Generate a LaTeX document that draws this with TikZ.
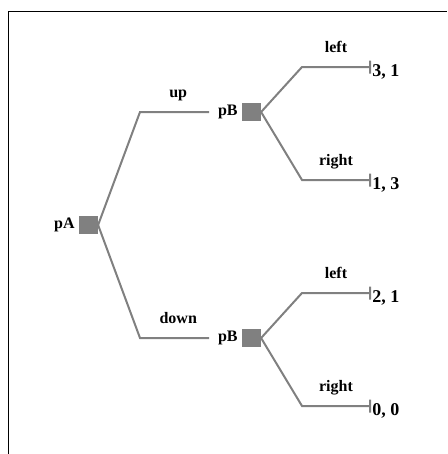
\documentclass[tikz,border=0pt]{standalone}
\usepackage{fontspec}
\setmainfont{Liberation Serif}
\usetikzlibrary{positioning,arrows.meta}
\definecolor{BranchGray}{RGB}{128,128,128}
\tikzset{
  branch/.style={draw=BranchGray,line width=1.5pt},
  decision/.style={fill=BranchGray,minimum size=14pt,inner sep=0pt},
  player/.style={font=\fontsize{12}{14}\selectfont\bfseries,inner sep=1pt},
  move/.style={font=\fontsize{12}{14}\selectfont\bfseries,anchor=base,yshift=11pt},
  payoff/.style={font=\fontsize{13.5}{16}\selectfont\bfseries,anchor=west,
    inner sep=1.5pt,yshift=-3.5pt}
}

\begin{document}
\begin{tikzpicture}[x=0.75pt,y=-0.75pt]
  \useasboundingbox (0,0) rectangle (447,454);
  % frame
  \draw[line width=0.75pt] (8,11.5) -- (447,11.5);
  \draw[line width=0.75pt] (8.5,11.5) -- (8.5,454);

  % decision nodes
  \node[decision] (sqA) at (88.5,225) {};
  \node[player,left=2pt of sqA] (pA) {pA};
  \node[decision] (sqB1) at (251.5,112) {};
  \node[player,left=2pt of sqB1] (pB1) {pB};
  \node[decision] (sqB2) at (251.5,338) {};
  \node[player,left=2pt of sqB2] (pB2) {pB};

  % first move
  \draw[branch,shorten >=5.5pt] (sqA.east) -- (140,112)
    -- node[move] {up} (pB1.west);
  \draw[branch,shorten >=5.5pt] (sqA.east) -- (140,338)
    -- node[move] {down} (pB2.west);

  % terminal points
  \coordinate (t1) at (370,67);
  \coordinate (t2) at (370,180);
  \coordinate (t3) at (370,293);
  \coordinate (t4) at (370,406);

  % second move, each ending in a short bar
  \draw[branch] (sqB1.east) -- (302,67) -- node[move] {left} (t1)
    +(0,-6.5) -- +(0,6.5);
  \draw[branch] (sqB1.east) -- (302,180) -- node[move] {right} (t2)
    +(0,-6.5) -- +(0,6.5);
  \draw[branch] (sqB2.east) -- (302,293) -- node[move] {left} (t3)
    +(0,-6.5) -- +(0,6.5);
  \draw[branch] (sqB2.east) -- (302,406) -- node[move] {right} (t4)
    +(0,-6.5) -- +(0,6.5);

  % payoffs
  \node[payoff] (u1) at (t1) {3, 1};
  \node[payoff] (u2) at (t2) {1, 3};
  \node[payoff] (u3) at (t3) {2, 1};
  \node[payoff] (u4) at (t4) {0, 0};
\end{tikzpicture}
\end{document}
